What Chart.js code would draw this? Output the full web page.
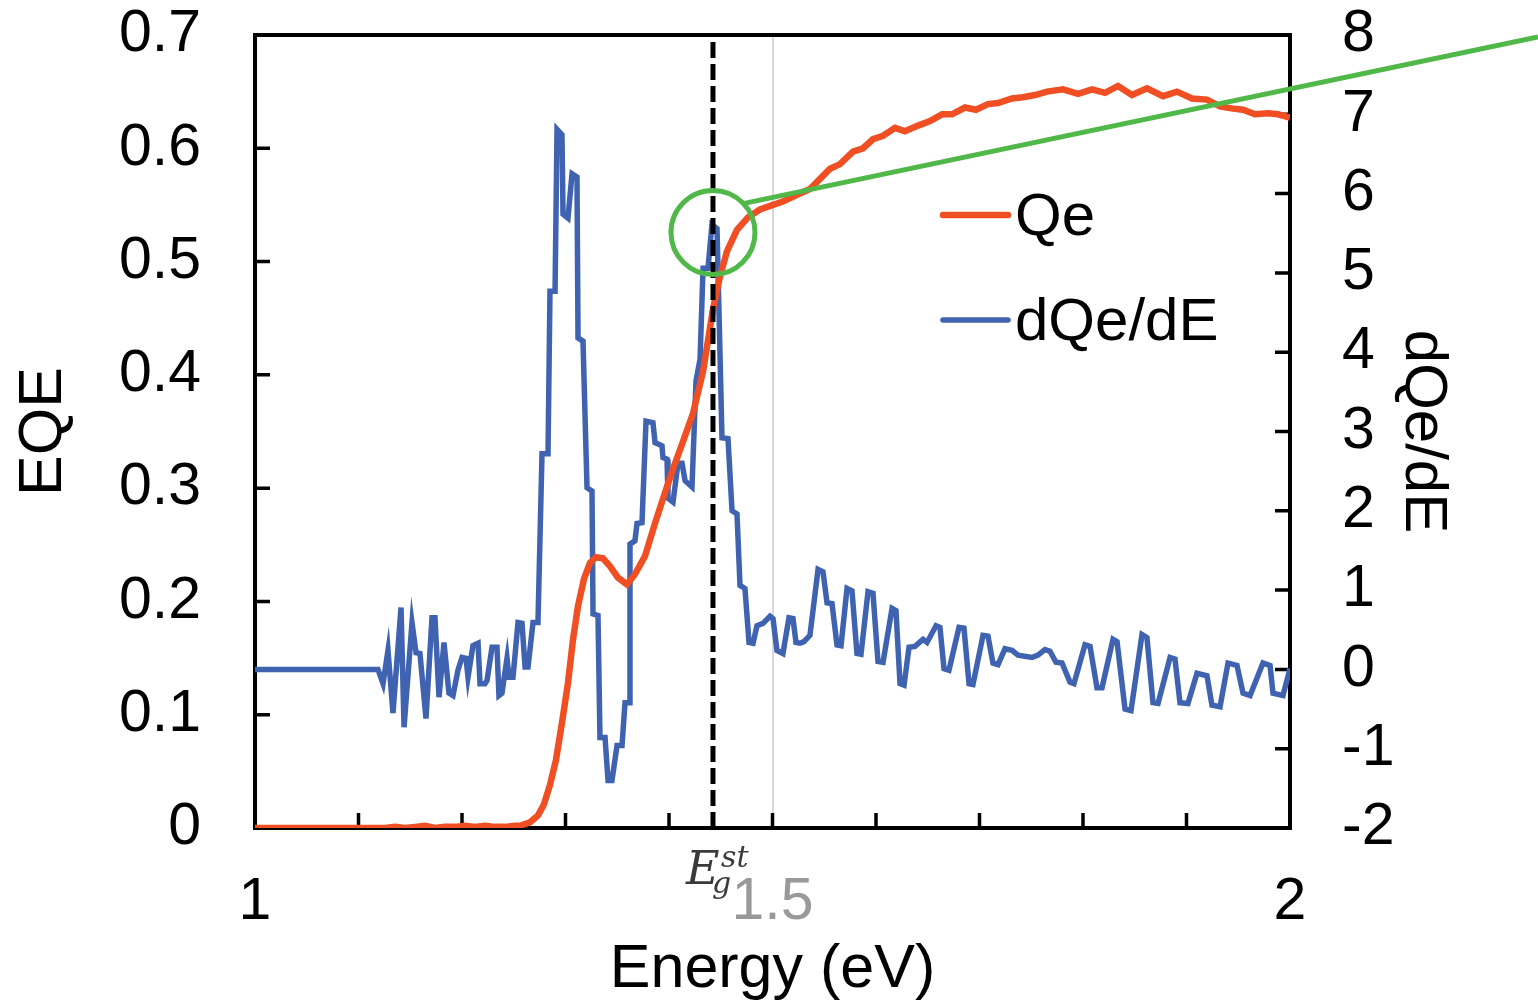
<!DOCTYPE html>
<html><head><meta charset="utf-8">
<script src="https://cdn.jsdelivr.net/npm/chart.js@4.4.1/dist/chart.umd.min.js"></script>
<style>html,body{margin:0;padding:0;background:#fff;}#wrap{width:1538px;height:1007px;}</style>
</head><body><div id="wrap"><canvas id="c" width="1538" height="1007"></canvas></div>
<script>
// ---- data ----
const qeEnergy = [1.000,1.1256,1.1353,1.1449,1.1546,1.1643,1.1739,1.1836,1.1932,1.2029,1.2126,1.2222,1.2319,1.2415,1.2512,1.2560,1.2657,1.2734,1.2792,1.2850,1.2908,1.2966,1.3024,1.3072,1.3121,1.3179,1.3237,1.3295,1.3362,1.3430,1.3507,1.3594,1.3671,1.3768,1.3865,1.3961,1.4039,1.4135,1.4232,1.4329,1.4425,1.4493,1.4560,1.4657,1.4763,1.4879,1.5005,1.5101,1.5237,1.5362,1.5459,1.5556,1.5652,1.5778,1.5874,1.5971,1.6068,1.6184,1.6280,1.6406,1.6522,1.6638,1.6734,1.6860,1.6966,1.7082,1.7179,1.7314,1.7420,1.7536,1.7652,1.7807,1.7952,1.8087,1.8213,1.8338,1.8473,1.8618,1.8773,1.8908,1.9053,1.9198,1.9324,1.9449,1.9546,1.9662,1.9787,1.9884,2.0000];
const qeValues = [0,0,0.001,0,0.001,0.002,0,0.001,0.001,0.002,0.001,0.002,0.001,0.001,0.002,0.002,0.005,0.011,0.021,0.038,0.060,0.093,0.128,0.166,0.196,0.220,0.234,0.239,0.238,0.231,0.221,0.215,0.224,0.240,0.269,0.296,0.317,0.341,0.366,0.403,0.458,0.487,0.509,0.528,0.539,0.546,0.550,0.553,0.559,0.564,0.573,0.582,0.586,0.597,0.600,0.608,0.611,0.618,0.615,0.620,0.624,0.630,0.630,0.636,0.634,0.639,0.640,0.644,0.645,0.647,0.650,0.652,0.648,0.652,0.649,0.655,0.647,0.653,0.646,0.650,0.644,0.643,0.637,0.635,0.634,0.630,0.631,0.630,0.627];

const dqeEnergy = [1.000,1.1188,1.1237,1.1285,1.1333,1.1411,1.1440,1.1517,1.1556,1.1594,1.1652,1.1710,1.1739,1.1778,1.1826,1.1874,1.1913,1.1961,1.2000,1.2039,1.2058,1.2106,1.2155,1.2174,1.2222,1.2242,1.2290,1.2338,1.2357,1.2386,1.2435,1.2454,1.2493,1.2541,1.2580,1.2609,1.2638,1.2686,1.2734,1.2773,1.2831,1.2850,1.2899,1.2918,1.2966,1.2976,1.3024,1.3063,1.3111,1.3121,1.3169,1.3208,1.3256,1.3266,1.3314,1.3333,1.3382,1.3411,1.3449,1.3498,1.3546,1.3575,1.3614,1.3623,1.3671,1.3691,1.3739,1.3778,1.3845,1.3865,1.3932,1.3942,1.3981,1.3990,1.4039,1.4087,1.4126,1.4155,1.4222,1.4261,1.4300,1.4329,1.4377,1.4415,1.4464,1.4512,1.4570,1.4609,1.4657,1.4686,1.4734,1.4773,1.4812,1.4850,1.4908,1.4976,1.5005,1.5043,1.5101,1.5159,1.5198,1.5227,1.5266,1.5304,1.5362,1.5440,1.5488,1.5527,1.5575,1.5623,1.5662,1.5720,1.5768,1.5816,1.5855,1.5923,1.5971,1.6019,1.6068,1.6155,1.6193,1.6232,1.6271,1.6319,1.6377,1.6454,1.6493,1.6580,1.6618,1.6657,1.6705,1.6802,1.6850,1.6899,1.6937,1.7034,1.7082,1.7130,1.7179,1.7246,1.7314,1.7372,1.7507,1.7565,1.7633,1.7681,1.7739,1.7797,1.7874,1.7913,1.8019,1.8068,1.8135,1.8184,1.8290,1.8329,1.8406,1.8464,1.8570,1.8618,1.8676,1.8725,1.8841,1.8889,1.8937,1.9014,1.9101,1.9198,1.9246,1.9324,1.9401,1.9488,1.9546,1.9614,1.9739,1.9807,1.9836,1.9932,2.0000];
const dqeValues = [0,0,-0.18,0.24,-0.55,0.78,-0.73,0.59,0.21,0.20,-0.62,0.65,0.65,-0.35,0.34,-0.30,-0.33,-0.01,0.15,0.14,-0.10,0.30,0.33,-0.18,-0.18,-0.14,0.28,0.28,-0.33,-0.30,0.14,-0.10,-0.10,0.59,0.58,0.03,0.03,0.59,0.59,2.72,2.72,4.77,4.77,6.81,6.74,5.74,5.69,6.25,6.21,4.18,4.14,2.29,2.25,0.70,0.68,-0.86,-0.86,-1.40,-1.40,-0.96,-0.96,-0.42,-0.42,1.58,1.62,1.84,1.85,3.13,3.11,2.86,2.82,2.67,2.65,2.16,2.11,2.60,2.60,2.38,2.30,3.64,3.91,5.06,5.06,5.61,5.56,2.92,2.91,2.00,1.96,1.06,1.02,0.34,0.33,0.55,0.58,0.67,0.64,0.24,0.20,0.65,0.64,0.34,0.33,0.35,0.43,1.26,1.23,0.84,0.83,0.31,0.30,1.02,0.99,0.20,0.19,0.98,0.96,0.10,0.09,0.77,0.74,-0.18,-0.20,0.28,0.29,0.38,0.34,0.55,0.53,0.01,-0.01,0.53,0.52,-0.18,-0.19,0.43,0.42,0.08,0.06,0.26,0.24,0.18,0.15,0.18,0.25,0.23,0.09,0.08,-0.16,-0.18,0.31,0.29,-0.23,-0.23,0.38,0.35,-0.50,-0.52,0.44,0.40,-0.42,-0.43,0.15,0.13,-0.42,-0.43,-0.05,-0.08,-0.45,-0.47,0.08,0.05,-0.30,-0.33,0.08,0.05,-0.30,-0.33,0.01];

const xTickLabels = [1, 1.5, 2];
const grayTickLabel = 1.5;
const egEnergy = 1.4425;          // E_g^st marker (dashed line)
const eqeRange = [0, 0.7];
const circleEnergy = [1.4425];     // highlight circle centre
const circleValue = [5.51];
const tangentEnergy = [1.4715, 2.2396];
const tangentValue = [5.874, 7.975];

// ---- styles ----
const FONT = '"Liberation Sans", Arial, sans-serif';
const RED = '#F04E23', BLUE = '#3F63B0', GREEN = '#50B848';
Chart.defaults.font.family = FONT;
Chart.defaults.color = '#000';

const toXY = (xs, ys) => xs.map((x, i) => ({x, y: ys[i]}));
const near = (a, b) => Math.abs(a - b) < 1e-6;
const fixBox = (w, h) => s => {
  if (w !== null) s.width = w;
  if (h !== null) s.height = h;
  s.paddingTop = 0; s.paddingBottom = 0; s.paddingLeft = 0; s.paddingRight = 0;
};

const framePlugin = {
  id: 'frame',
  beforeDatasetsDraw(chart) {
    const {ctx, chartArea: a, scales} = chart;
    ctx.save();
    ctx.strokeStyle = '#000';
    ctx.lineWidth = 3.5;
    ctx.beginPath();
    const L = 15;
    scales.x.ticks.forEach(t => { const p = scales.x.getPixelForValue(t.value); ctx.moveTo(p, a.bottom); ctx.lineTo(p, a.bottom - L); });
    scales.y.ticks.forEach(t => { const p = scales.y.getPixelForValue(t.value); ctx.moveTo(a.left, p); ctx.lineTo(a.left + L, p); });
    scales.y2.ticks.forEach(t => { const p = scales.y2.getPixelForValue(t.value); ctx.moveTo(a.right, p); ctx.lineTo(a.right - L, p); });
    ctx.stroke();
    ctx.lineWidth = 4;
    ctx.strokeRect(a.left, a.top, a.right - a.left, a.bottom - a.top);
    ctx.restore();
  },
  afterDraw(chart) {
    const {ctx} = chart;
    ctx.save();
    // legend
    const items = [[RED, 'Qe', 215, 6.5], [BLUE, 'dQe/dE', 320, 5.5]];
    items.forEach(([c, t, y, w]) => {
      ctx.strokeStyle = c; ctx.lineWidth = w; ctx.lineCap = 'round';
      ctx.beginPath(); ctx.moveTo(943, y); ctx.lineTo(1008, y); ctx.stroke();
      ctx.fillStyle = '#000'; ctx.font = '60px ' + FONT; ctx.textBaseline = 'middle'; ctx.textAlign = 'left';
      ctx.fillText(t, 1015, y + 3);
    });
    // E_g^st label
    const xp = chart.scales.x.getPixelForValue(egEnergy);
    ctx.fillStyle = '#3a3a3a'; ctx.textBaseline = 'alphabetic';
    ctx.font = 'italic 46px "DejaVu Serif", serif';
    ctx.fillText('E', xp - 27, 884);
    ctx.font = 'italic 30px "DejaVu Serif", serif';
    ctx.fillText('g', xp - 1, 893);
    ctx.fillText('st', xp + 8, 867);
    ctx.restore();
  }
};

new Chart(document.getElementById('c'), {
  type: 'line',
  data: {
    datasets: [
      { label: 'tangent', data: toXY(tangentEnergy, tangentValue), yAxisID: 'y2', borderColor: GREEN, borderWidth: 5, pointRadius: 0, clip: false, order: 0 },
      { label: 'circle', data: toXY(circleEnergy, circleValue), yAxisID: 'y2', showLine: false, pointRadius: 42, pointHoverRadius: 42, pointBorderWidth: 5, pointBorderColor: GREEN, pointBackgroundColor: 'rgba(0,0,0,0)', clip: false, order: 1 },
      { label: 'Eg', data: toXY([egEnergy, egEnergy], eqeRange), yAxisID: 'y', borderColor: '#000', borderWidth: 5, borderDash: [16, 6], pointRadius: 0, order: 2 },
      { label: 'Qe', data: toXY(qeEnergy, qeValues), yAxisID: 'y', borderColor: RED, borderWidth: 6.5, pointRadius: 0, tension: 0, order: 3 },
      { label: 'dQe/dE', data: toXY(dqeEnergy, dqeValues), yAxisID: 'y2', borderColor: BLUE, borderWidth: 5.5, pointRadius: 0, tension: 0, order: 4 }
    ]
  },
  options: {
    responsive: false, animation: false, events: [],
    layout: { autoPadding: false, padding: { top: 35, right: 76, bottom: 0, left: 0 } },
    plugins: { legend: { display: false }, tooltip: { enabled: false } },
    scales: {
      x: {
        type: 'linear', min: 1, max: 2,
        afterFit: fixBox(null, 179),
        border: { display: false },
        grid: { drawTicks: false, drawOnChartArea: true, lineWidth: 2,
                color: c => (c.tick && near(c.tick.value, grayTickLabel)) ? '#d9d9d9' : 'rgba(0,0,0,0)' },
        ticks: { stepSize: 0.1, autoSkip: false, maxRotation: 0, padding: 39, font: { size: 59 },
                 color: c => (c.tick && near(c.tick.value, grayTickLabel)) ? '#999999' : '#000',
                 callback: v => { const m = xTickLabels.find(t => near(t, v)); return m === undefined ? '' : String(m); } },
        title: { display: true, text: 'Energy (eV)', font: { size: 61 }, color: '#000', padding: { top: 0, bottom: 0 } }
      },
      y: {
        position: 'left', min: 0, max: 0.7,
        afterFit: fixBox(255, null),
        border: { display: false },
        grid: { display: false, drawTicks: false },
        ticks: { stepSize: 0.1, autoSkip: false, padding: 54, font: { size: 59 }, color: '#000' },
        title: { display: true, text: 'EQE', font: { size: 61 }, color: '#000', padding: { top: 8, bottom: 0 } }
      },
      y2: {
        position: 'right', min: -2, max: 8,
        afterFit: fixBox(172, null),
        border: { display: false },
        grid: { display: false, drawTicks: false },
        ticks: { stepSize: 1, autoSkip: false, padding: 52, font: { size: 59 }, color: '#000' },
        title: { display: true, text: 'dQe/dE', font: { size: 60 }, color: '#000', padding: { top: 3, bottom: 0 } }
      }
    }
  },
  plugins: [framePlugin]
});
</script></body></html>
